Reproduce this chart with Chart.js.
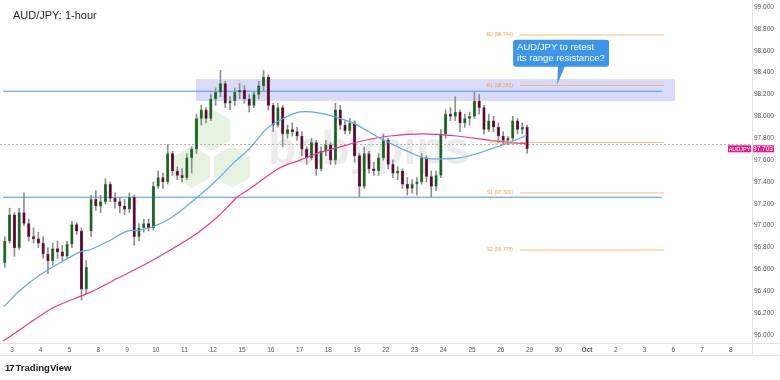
<!DOCTYPE html>
<html>
<head>
<meta charset="utf-8">
<script src="https://cdn.jsdelivr.net/npm/chart.js@4.4.1/dist/chart.umd.min.js"></script>
<style>
body { margin: 0; background: #fff; font-family: "Liberation Sans", Arial, sans-serif; }
#wrap { position: relative; width: 780px; height: 380px; }
#title { position: absolute; left: 13px; top: 9px; font-size: 11px; color: #1e222d; }
#tv { position: absolute; left: 5px; top: 362px; font-size: 9.5px; font-weight: bold; color: #131722; }
#tv .logo { font-weight: 900; letter-spacing: -1px; margin-right: 2px; }
</style>
</head>
<body>
<div id="wrap">
  <canvas id="chart" width="780" height="380"></canvas>
  <div id="title">AUD/JPY: 1-hour</div>
  <div id="tv"><span class="logo">17</span>TradingView</div>
</div>
<script>
// candles, roughly 4h each, first one starts late on the 2nd
const opens = [
  96.66,96.86,97.10,96.80,97.12,97.02,96.90,96.88,96.84,96.74,
  96.68,96.79,96.76,96.72,96.83,97.01,96.95,96.42,96.95,97.24,
  97.18,97.22,97.38,97.25,97.22,97.18,97.15,97.26,96.90,96.98,
  97.02,96.98,97.36,97.44,97.40,97.66,97.50,97.46,97.44,97.62,
  97.70,97.98,98.06,97.98,98.16,98.22,98.30,98.12,98.14,98.22,
  98.24,98.16,98.10,98.20,98.28,98.36,98.10,97.92,98.08,97.84,
  97.88,97.86,97.82,97.70,97.62,97.76,97.52,97.68,97.74,97.60,
  98.06,97.92,97.87,97.94,97.64,97.36,97.66,97.52,97.50,97.62,
  97.78,97.56,97.48,97.50,97.38,97.34,97.38,97.40,97.62,97.45,
  97.36,97.46,97.84,98.02,98.00,98.04,97.94,97.98,98.00,98.14,
  98.08,97.88,97.96,97.90,97.82,97.78,97.80,97.96,97.88,97.90
];
const highs = [
  96.90,97.16,97.12,97.16,97.30,97.06,96.98,96.94,96.90,96.80,
  96.84,96.86,96.82,96.86,97.04,97.03,96.98,96.68,97.28,97.32,
  97.28,97.43,97.40,97.30,97.26,97.24,97.30,97.28,97.02,97.06,
  97.06,97.40,97.50,97.48,97.74,97.68,97.54,97.52,97.66,97.72,
  98.02,98.10,98.08,98.20,98.26,98.42,98.32,98.18,98.26,98.30,
  98.28,98.20,98.22,98.32,98.42,98.38,98.12,98.12,98.10,97.92,
  97.94,97.90,97.86,97.72,97.80,97.78,97.72,97.78,97.76,98.12,
  98.10,97.96,97.98,97.96,97.66,97.72,97.68,97.58,97.66,97.84,
  97.80,97.60,97.54,97.52,97.44,97.42,97.44,97.66,97.64,97.50,
  97.50,97.88,98.06,98.08,98.18,98.06,98.02,98.04,98.22,98.20,
  98.10,98.02,98.00,97.94,97.86,97.82,98.00,97.98,97.94,97.92
];
const lows = [
  96.62,96.84,96.72,96.78,97.00,96.86,96.84,96.80,96.70,96.56,
  96.64,96.70,96.68,96.70,96.80,96.92,96.32,96.38,96.90,97.14,
  97.12,97.20,97.22,97.16,97.12,97.10,97.12,96.82,96.86,96.94,
  96.95,96.96,97.34,97.34,97.38,97.46,97.42,97.40,97.42,97.48,
  97.66,97.92,97.94,97.96,98.10,98.18,98.08,98.06,98.10,98.16,
  98.12,98.04,98.08,98.16,98.24,98.06,97.86,97.90,97.72,97.80,
  97.82,97.78,97.64,97.56,97.60,97.46,97.50,97.64,97.56,97.56,
  97.88,97.84,97.84,97.58,97.26,97.34,97.48,97.46,97.46,97.60,
  97.52,97.44,97.42,97.34,97.28,97.30,97.28,97.38,97.40,97.26,
  97.32,97.44,97.80,97.96,97.96,97.86,97.90,97.92,97.98,98.02,
  97.84,97.86,97.86,97.76,97.74,97.74,97.78,97.84,97.84,97.66
];
const closes = [
  96.86,97.10,96.80,97.12,97.02,96.90,96.88,96.84,96.74,96.68,
  96.79,96.76,96.72,96.83,97.01,96.95,96.42,96.62,97.24,97.18,
  97.22,97.38,97.25,97.22,97.18,97.15,97.26,96.90,96.98,97.02,
  96.98,97.36,97.44,97.40,97.66,97.50,97.46,97.44,97.62,97.70,
  97.98,98.06,97.98,98.16,98.22,98.30,98.12,98.14,98.22,98.24,
  98.16,98.10,98.20,98.28,98.36,98.10,97.92,98.08,97.84,97.88,
  97.86,97.82,97.70,97.62,97.76,97.52,97.68,97.74,97.60,98.06,
  97.92,97.87,97.94,97.64,97.36,97.66,97.52,97.50,97.62,97.78,
  97.56,97.48,97.50,97.38,97.34,97.38,97.40,97.62,97.45,97.36,
  97.46,97.84,98.02,98.00,98.04,97.94,97.98,98.00,98.14,98.08,
  97.88,97.96,97.90,97.82,97.78,97.80,97.96,97.88,97.90,97.703
];

// x axis: one unit per trading day, 0 = Sep 3
const dayLabels = ['3','4','5','8','9','10','11','12','15','16','17','18','19',
  '22','23','24','25','26','29','30','Oct','2','3','6','7','8'];
const priceTicks = [96.0,96.2,96.4,96.6,96.8,97.0,97.2,97.4,97.6,97.8,98.0,98.2,98.4,98.6,98.8,99.0];

// moving averages [day, price]
const maBlue = [[-0.28,96.26],[0.28,96.41],[0.97,96.55],[1.67,96.66],[2.37,96.76],[2.71,96.78],
  [3.30,96.85],[4.00,96.95],[4.45,96.96],[4.90,96.99],[5.39,97.05],[5.84,97.13],[6.54,97.28],
  [7.13,97.42],[7.69,97.57],[8.28,97.71],[8.87,97.89],[9.43,97.98],[10.02,98.04],[10.71,98.03],
  [11.30,97.99],[11.86,97.94],[12.80,97.80],[13.84,97.67],[14.30,97.62],[14.78,97.61],
  [15.58,97.62],[16.20,97.66],[16.63,97.70],[17.20,97.75],[17.67,97.80],[17.90,97.83]];
const maPink = [[-0.31,95.945],[0.45,96.08],[1.43,96.25],[2.71,96.39],[3.76,96.53],[4.80,96.67],
  [5.84,96.83],[6.54,96.95],[7.23,97.10],[7.83,97.26],[8.28,97.34],[9.32,97.53],[10.02,97.60],
  [10.71,97.67],[11.41,97.72],[12.10,97.77],[13.15,97.82],[14.30,97.84],[15.48,97.82],
  [16.63,97.78],[17.32,97.76],[17.91,97.75]];

const rangeLines = [98.23, 97.26];
const rangeBox = [98.14, 98.34];
const pivotNames = ['R2', 'R1', 'P', 'S1', 'S2'];
const pivotValues = [98.744, 98.283, 97.761, 97.300, 96.778];
const lastPrice = 97.703;
const prevClose = 97.745;
const calloutText = ['AUD/JPY to retest', 'its range resistance?'];

const candleX = closes.map((c, i) => -0.25 + i / 6);
const isUp = closes.map((c, i) => c >= opens[i]);

const datasets = [];
datasets.push({
    type: 'line', label: 'ma100',
    data: maBlue.map(p => ({x: p[0], y: p[1]})),
    borderColor: '#5eaaf3', borderWidth: 1.2, pointRadius: 0, tension: 0.3, order: 0
});
datasets.push({
    type: 'line', label: 'ma200',
    data: maPink.map(p => ({x: p[0], y: p[1]})),
    borderColor: '#f0368f', borderWidth: 1.2, pointRadius: 0, tension: 0.3, order: 0
});
datasets.push({
    type: 'bar', label: 'bodies',
    data: candleX.map((x, i) => ({x: x, y: [Math.min(opens[i], closes[i]), Math.max(opens[i], closes[i])]})),
    backgroundColor: isUp.map(u => u ? '#1f5c27' : '#4d0f2c'),
    borderColor: isUp.map(u => u ? '#3f9a45' : '#9a2f63'),
    borderWidth: 0.6, borderSkipped: false,
    barThickness: 2.6, minBarLength: 1, grouped: false, order: 1
});
datasets.push({
    type: 'bar', label: 'wicks',
    data: candleX.map((x, i) => ({x: x, y: [lows[i], highs[i]]})),
    backgroundColor: '#8f8f8f',
    barThickness: 1, grouped: false, order: 2
});
rangeLines.forEach(v => {
    datasets.push({
        type: 'line', data: [{x: -0.31, y: v}, {x: 22.6, y: v}],
        borderColor: '#4f8ef2', borderWidth: 1, pointRadius: 0, order: 4
    });
});
pivotValues.forEach(v => {
    datasets.push({
        type: 'line', data: [{x: 17.67, y: v}, {x: 22.68, y: v}],
        borderColor: 'rgba(255,168,80,0.75)', borderWidth: 1, pointRadius: 0, order: 4
    });
});

const extras = {
    id: 'extras',
    beforeDatasetsDraw(chart) {
        const c = chart.ctx, xs = chart.scales.x, ys = chart.scales.y, a = chart.chartArea;
        c.save();
        // babypips watermark
        c.fillStyle = 'rgba(140,200,120,0.22)';
        [[212, 130], [192, 167], [232, 167]].forEach(h => {
            c.beginPath();
            for (let k = 0; k < 6; k++) {
                const ang = Math.PI / 3 * k + Math.PI / 6;
                const px = h[0] + 21 * Math.cos(ang), py = h[1] + 21 * Math.sin(ang);
                k ? c.lineTo(px, py) : c.moveTo(px, py);
            }
            c.closePath();
            c.fill();
        });
        c.fillStyle = 'rgba(0,0,0,0.08)';
        c.font = 'bold 46px "Liberation Sans", Arial, sans-serif';
        c.textBaseline = 'alphabetic';
        c.fillText('babypips', 268, 164);

        // range box
        const bx1 = xs.getPixelForValue(6.4), bx2 = xs.getPixelForValue(23.06);
        const by1 = ys.getPixelForValue(rangeBox[1]), by2 = ys.getPixelForValue(rangeBox[0]);
        c.fillStyle = 'rgba(170,175,245,0.45)';
        c.fillRect(bx1, by1, bx2 - bx1, by2 - by1);

        // dotted previous close line
        const py = Math.round(ys.getPixelForValue(prevClose)) + 0.5;
        c.strokeStyle = '#b5b5b5';
        c.lineWidth = 1;
        c.setLineDash([2, 2]);
        c.beginPath();
        c.moveTo(a.left, py);
        c.lineTo(a.right, py);
        c.stroke();
        c.restore();
    },
    afterDraw(chart) {
        const c = chart.ctx, xs = chart.scales.x, ys = chart.scales.y, a = chart.chartArea;
        c.save();
        // pivot labels
        c.font = '5px "Liberation Sans", Arial, sans-serif';
        c.fillStyle = '#f2a04e';
        c.textAlign = 'right';
        c.textBaseline = 'middle';
        pivotValues.forEach((v, i) => {
            c.fillText(pivotNames[i] + ' (' + v.toFixed(3) + ')', xs.getPixelForValue(17.67) - 7, ys.getPixelForValue(v));
        });

        // callout
        const tx = xs.getPixelForValue(18.96), ty = ys.getPixelForValue(98.29);
        const bx = tx - 44, by = ty - 45, bw = 96, bh = 27;
        c.fillStyle = '#3b95e9';
        c.beginPath();
        c.roundRect(bx, by, bw, bh, 3);
        c.fill();
        c.beginPath();
        c.moveTo(tx + 1, by + bh - 1);
        c.lineTo(tx + 8, by + bh - 1);
        c.lineTo(tx, ty);
        c.closePath();
        c.fill();
        c.fillStyle = '#fff';
        c.font = '9.5px "Liberation Sans", Arial, sans-serif';
        c.textAlign = 'left';
        c.fillText(calloutText[0], bx + 4, by + 8);
        c.fillText(calloutText[1], bx + 4, by + 19);

        // last price tags
        const ly = ys.getPixelForValue(lastPrice);
        c.fillStyle = '#ec1b8a';
        c.fillRect(a.right - 24, ly - 3.5, 23, 7);
        c.fillRect(a.right, ly - 3.5, 22, 7);
        c.fillStyle = '#fff';
        c.font = '5.5px "Liberation Sans", Arial, sans-serif';
        c.textAlign = 'center';
        c.fillText('AUDJPY', a.right - 12.5, ly + 0.3);
        c.font = '6.5px "Liberation Sans", Arial, sans-serif';
        c.fillText(lastPrice.toFixed(3), a.right + 11, ly + 0.3);

        // frame of the time axis
        c.strokeStyle = '#e3e3e3';
        c.lineWidth = 1;
        c.beginPath();
        c.moveTo(0, a.bottom + 0.5); c.lineTo(780, a.bottom + 0.5);
        c.moveTo(0, a.bottom + 12.5); c.lineTo(780, a.bottom + 12.5);
        c.moveTo(a.right + 0.5, a.top); c.lineTo(a.right + 0.5, a.bottom + 12.5);
        c.stroke();
        c.restore();
    }
};

const chart = new Chart(document.getElementById('chart').getContext('2d'), {
    type: 'bar',
    data: { datasets: datasets },
    options: {
        responsive: false,
        animation: false,
        devicePixelRatio: 1,
        layout: { padding: { left: 0, right: 0, top: 0, bottom: 25 } },
        plugins: { legend: { display: false }, tooltip: { enabled: false } },
        scales: {
            x: {
                type: 'linear', min: -0.417, max: 25.739, offset: false,
                afterBuildTicks: s => { s.ticks = dayLabels.map((l, i) => ({value: i})); },
                afterFit: s => { s.height = 12; s.paddingLeft = 0; s.paddingRight = 0; },
                grid: { display: false, drawTicks: false, offset: false },
                border: { display: false },
                ticks: {
                    autoSkip: false, maxRotation: 0, padding: 3,
                    color: '#555',
                    font: ctx => ({ family: '"Liberation Sans", Arial, sans-serif', size: 6.5,
                        weight: dayLabels[ctx.index] === 'Oct' ? 'bold' : 'normal' }),
                    callback: (v, i) => dayLabels[i]
                }
            },
            y: {
                position: 'right', min: 95.927, max: 99.064,
                afterBuildTicks: s => { s.ticks = priceTicks.map(v => ({value: v})); },
                afterFit: s => { s.width = 28; s.paddingTop = 0; s.paddingBottom = 0; },
                grid: { display: false, drawTicks: false },
                border: { display: false },
                ticks: {
                    padding: 2, color: '#555',
                    font: { family: '"Liberation Sans", Arial, sans-serif', size: 6.5 },
                    callback: v => v.toFixed(3)
                }
            }
        }
    },
    plugins: [extras]
});
</script>
</body>
</html>
